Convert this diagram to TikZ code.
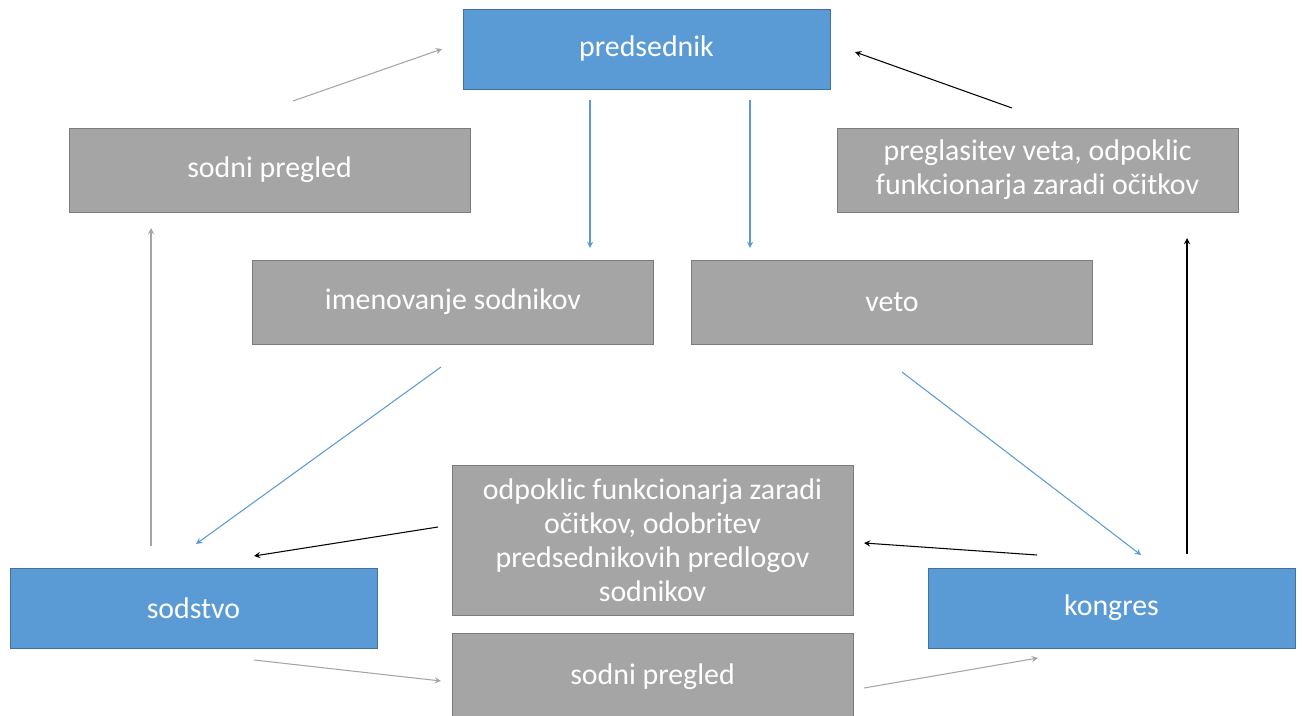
\documentclass[tikz,border=0pt]{standalone}
\usepackage{fontspec}
\setmainfont{Carlito}
\usepackage{tikz}
\usetikzlibrary{arrows}
\definecolor{boxblue}{HTML}{5B9BD5}
\definecolor{boxblueline}{HTML}{41719C}
\definecolor{boxgray}{HTML}{A5A5A5}
\definecolor{boxgrayline}{HTML}{7C7C7C}
\tikzstyle{branch} = [rectangle, minimum width=7.34cm, minimum height=1.6cm, text centered, draw=boxblueline, fill=boxblue, text=white]
\tikzstyle{power} = [rectangle, minimum width=8.02cm, minimum height=1.68cm, align=center, draw=boxgrayline, fill=boxgray, text=white]
\tikzstyle{arrow} = [line width=0.6pt,->,>=stealth]

\begin{document}
\begin{tikzpicture}[x=0.02cm, y=-0.02cm, font=\fontsize{17}{19.3}\selectfont]
				\useasboundingbox (0,0) rectangle (1302,716);
				\node(pres) [branch] at (646.5,49) {predsednik};
				\node(court) [branch] at (193.5,608) {sodstvo};
				\node(cong) [branch] at (1111.5,608) {kongres};
				%----------------------------------------------------%
				\node(revtop) [power] at (269.5,170) {sodni pregled};
				\node(overr) [power] at (1037.5,170) {preglasitev veta, odpoklic\\funkcionarja zaradi očitkov};
				\node(appoint) [power] at (453,302) {imenovanje sodnikov};
				\node(veto) [power] at (892,302) {veto};
				\node(impeach) [power, minimum height=3cm] at (652.5,540) {odpoklic funkcionarja zaradi\\očitkov, odobritev\\predsednikovih predlogov\\sodnikov};
				\node(revbot) [power, minimum height=1.74cm] at (652.5,677) {sodni pregled};
				%----------------------------------------------------%
				\coordinate (a1) at (293,101); \coordinate (b1) at (442,49);
				\coordinate (a2) at (590,100); \coordinate (b2) at (590,248);
				\coordinate (a3) at (750,100); \coordinate (b3) at (750,248);
				\coordinate (a4) at (1012,108); \coordinate (b4) at (855,52);
				\coordinate (a5) at (151,546); \coordinate (b5) at (151,228);
				\coordinate (a6) at (1187,554); \coordinate (b6) at (1187,238);
				\coordinate (a7) at (441,367); \coordinate (b7) at (196,544);
				\coordinate (a8) at (902,372); \coordinate (b8) at (1141,555);
				\coordinate (a9) at (438,527); \coordinate (b9) at (254,556);
				\coordinate (a10) at (1037,555); \coordinate (b10) at (864,543);
				\coordinate (a11) at (254,660); \coordinate (b11) at (441,681);
				\coordinate (a12) at (864,688); \coordinate (b12) at (1038,658);
				
				\draw[arrow, boxgray] (a1) -- (b1);
				\draw[arrow, boxblue] (a2) -- (b2);
				\draw[arrow, boxblue] (a3) -- (b3);
				\draw[arrow, black] (a4) -- (b4);
				\draw[arrow, boxgray] (a5) -- (b5);
				\draw[arrow, black] (a6) -- (b6);
				\draw[arrow, boxblue] (a7) -- (b7);
				\draw[arrow, boxblue] (a8) -- (b8);
				\draw[arrow, black] (a9) -- (b9);
				\draw[arrow, black] (a10) -- (b10);
				\draw[arrow, boxgray] (a11) -- (b11);
				\draw[arrow, boxgray] (a12) -- (b12);
			\end{tikzpicture}
\end{document}
